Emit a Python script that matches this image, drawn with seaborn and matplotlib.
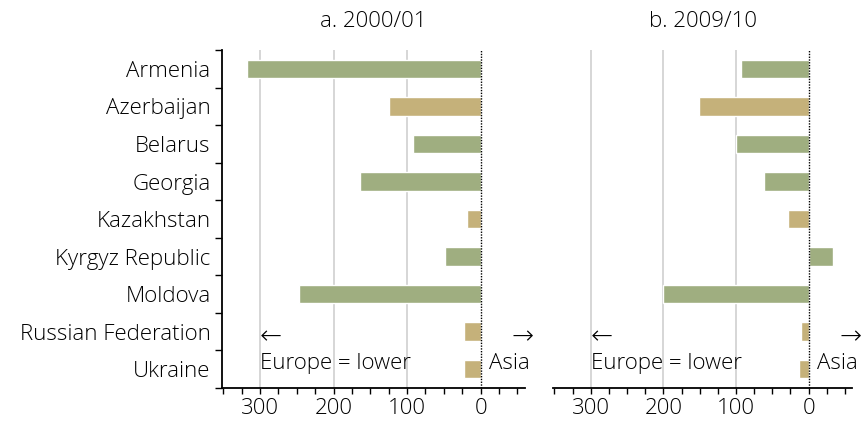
import pandas as pd
import matplotlib
matplotlib.use("Agg")
import matplotlib.pyplot as plt
import seaborn as sns
from matplotlib.ticker import MultipleLocator, FixedLocator

# Data
countries = ["Armenia", "Azerbaijan", "Belarus", "Georgia", "Kazakhstan",
             "Kyrgyz Republic", "Moldova", "Russian Federation", "Ukraine"]
groups = ["other", "energy", "other", "other", "energy",
          "other", "other", "energy", "energy"]
values_2000 = [318, 125, 92, 164, 19, 48, 247, 23, 23]
values_2009 = [93, 151, 100, 62, 29, -33, 200, 11, 13]
panel_titles = ["a. 2000/01", "b. 2009/10"]

GREEN = "#9fae80"
TAN = "#c5b17a"
palette = {"other": GREEN, "energy": TAN}

sns.set_style("white")
plt.rcParams["font.family"] = ["Open Sans", "DejaVu Sans"]
plt.rcParams["font.weight"] = "light"
plt.rcParams["text.color"] = "black"
plt.rcParams["xtick.color"] = "black"
plt.rcParams["ytick.color"] = "black"

FS = 16

fig = plt.figure(figsize=(8.66, 4.22), dpi=100)
ax1 = fig.add_axes([0.256, 0.081, 0.350, 0.800])
ax2 = fig.add_axes([0.6386, 0.081, 0.3454, 0.800])

for i, (ax, vals, title) in enumerate(zip([ax1, ax2], [values_2000, values_2009], panel_titles)):
    df = pd.DataFrame({"country": countries, "value": vals, "group": groups})
    sns.barplot(data=df, x="value", y="country", hue="group", palette=palette,
                dodge=False, width=0.5, legend=False, orient="h", ax=ax,
                saturation=1)
    ax.set_xlim(352, -60)
    ax.set_ylim(8.5, -0.5)
    ax.set_xlabel("")
    ax.set_ylabel("")
    ax.set_xticks([300, 200, 100, 0])
    ax.xaxis.set_minor_locator(MultipleLocator(25))
    ax.tick_params(axis="x", which="both", direction="out", length=4,
                   width=1, labelsize=FS, color="black", bottom=True,
                   labelcolor="black")
    for x in [100, 200, 300]:
        ax.axvline(x, color="#d0d0d0", lw=1.2, zorder=0)
    ax.axvline(0, color="black", lw=1, ls=(0, (1, 1)), zorder=3)
    for side in ["top", "right"]:
        ax.spines[side].set_visible(False)
    ax.spines["bottom"].set_color("black")
    ax.spines["bottom"].set_linewidth(1.3)
    ax.text(0.5, 1.085, title, transform=ax.transAxes, ha="center",
            va="center", fontsize=FS)
    # direction hints
    ax.text(300, 7.15, "\u2190", fontsize=19, ha="left", va="center",
            family=["DejaVu Sans"], fontweight="light")
    ax.text(300, 7.85, "Europe = lower", fontsize=FS, ha="left", va="center")
    ax.text(-42, 7.15, "\u2192", fontsize=19, ha="left", va="center",
            family=["DejaVu Sans"], clip_on=False, fontweight="light")
    ax.text(-12, 7.85, "Asia", fontsize=FS, ha="left", va="center", clip_on=False)

    if i == 0:
        ax.spines["left"].set_color("black")
        ax.spines["left"].set_linewidth(1.3)
        ax.yaxis.set_minor_locator(FixedLocator([k - 0.5 for k in range(10)]))
        ax.tick_params(axis="y", which="major", length=0, labelsize=FS, pad=8,
                       labelcolor="black")
        ax.tick_params(axis="y", which="minor", length=5, width=1,
                       direction="out", left=True, color="black")
    else:
        ax.spines["left"].set_visible(False)
        ax.tick_params(axis="y", which="both", left=False, labelleft=False)

fig.savefig("out.png", dpi=100)
